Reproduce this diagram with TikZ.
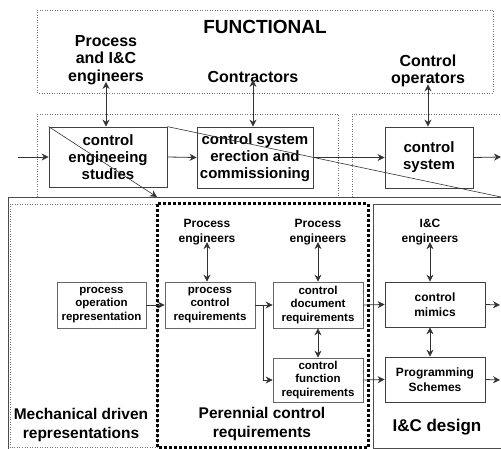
\documentclass[tikz,border=0pt]{standalone}
\usepackage{fontspec}
\setmainfont{Liberation Sans}
\usetikzlibrary{arrows.meta}
\begin{document}
\begin{tikzpicture}[x=1pt,y=-1pt,
  every node/.style={font=\bfseries, inner sep=0pt, align=center},
  big/.style={font=\fontsize{16}{17.5}\selectfont\bfseries},
  huge/.style={font=\fontsize{19}{20}\selectfont\bfseries},
  mid/.style={font=\fontsize{15}{17}\selectfont\bfseries},
  small/.style={font=\fontsize{12}{15}\selectfont\bfseries},
  tiny/.style={font=\fontsize{11.5}{13.5}\selectfont\bfseries},
  label/.style={font=\fontsize{15.5}{19.5}\selectfont\bfseries},
  stage/.style={draw=black!75, line width=0.8pt, mid},
  task/.style={draw=black!60, line width=0.7pt, tiny},
  frame/.style={draw=black!55, line width=0.5pt, dotted},
  link/.style={draw=black!80, line width=0.8pt, -{Stealth[length=7pt,width=7pt]}},
  both/.style={draw=black!80, line width=0.8pt, {Stealth[length=7pt,width=7pt]}-{Stealth[length=7pt,width=7pt]}},
  plain/.style={draw=black!80, line width=0.7pt}
]
\useasboundingbox (0,0) rectangle (501,449);
\begin{scope}
\clip (0,0) rectangle (501,449);

% frames
\draw[frame] (37,10) rectangle (493,93);
\draw[frame] (37,114) rectangle (338,197);
\draw[frame] (352,114) rectangle (510,197);
\draw[draw=black!70, line width=0.6pt] (8,197) rectangle (512,456);
\draw[frame] (10,204) rectangle (157,447);
\draw[draw=black, line width=3pt, dash pattern=on 3pt off 2pt] (157,204) rectangle (368,447.5);
\draw[draw=black!70, line width=0.6pt] (373,204) rectangle (512,448);

% functional level
\node[huge] (func) at (265,27) {FUNCTIONAL};
\node[big] (pie) at (106,60) {Process\\and I\&C\\engineers};
\node[big] (contr) at (253,77) {Contractors};
\node[big] (cop) at (428,71) {Control\\operators};

% stage boxes
\node[stage, minimum width=118pt, minimum height=60pt] (ces) at (108,157) {control\\engineeing\\studies};
\node[stage, minimum width=116pt, minimum height=61pt] (cse) at (255,157.5) {control system\\erection and\\commissioning};
\node[stage, minimum width=88pt, minimum height=61pt] (cs) at (429,157.5) {control\\system};

\coordinate (in) at (18,157);
\coordinate (out) at (501,157);
\coordinate (zoomL) at (157,197);
\coordinate (zoomR) at (501,197);

\draw[both] ([yshift=3pt]pie.south) -- (pie.south |- ces.north);
\draw[both] ([yshift=3pt]contr.south) -- (contr.south |- cse.north);
\draw[both] ([yshift=3pt]cop.south) -- (cop.south |- cs.north);

\draw[link] (in) -- (ces.west);
\draw[link] (ces.east) -- (cse.west);
\draw[link] (cse.east) -- (cs.west);
\draw[link] (cs.east) -- (out);

\draw[link, line width=0.6pt] (ces.north west) -- (zoomL);
\draw[plain, line width=0.6pt] (ces.north east) -- (zoomR);

% detailed level
\node[small] (pe1) at (207,232) {Process\\engineers};
\node[small] (pe2) at (318,232) {Process\\engineers};
\node[small] (ice) at (430,232) {I\&C\\engineers};

\node[task, minimum width=89pt, minimum height=46pt] (por) at (101.5,305) {process\\operation\\representation};
\node[task, minimum width=90pt, minimum height=46pt] (pcr) at (210,305) {process\\control\\requirements};
\node[task, minimum width=90pt, minimum height=46pt] (cdr) at (318,305) {control\\document\\requirements};
\node[task, minimum width=90pt, minimum height=44pt] (cfr) at (318,380) {control\\function\\requirements};
\node[task, draw=black!75, font=\fontsize{12}{15}\selectfont\bfseries, minimum width=100pt, minimum height=45pt] (cm) at (435,304.5) {control\\mimics};
\node[task, draw=black!75, font=\fontsize{12}{15}\selectfont\bfseries, minimum width=100pt, minimum height=45pt] (ps) at (435,379.5) {Programming\\Schemes};

\coordinate (fork) at (263,305);
\coordinate (outA) at (500,305);
\coordinate (outB) at (500,380);

\draw[both] ([yshift=3pt]pe1.south) -- (pe1.south |- pcr.north);
\draw[both] ([yshift=3pt]pe2.south) -- (pe2.south |- cdr.north);
\draw[both] ([yshift=3pt]ice.south) -- (ice.south |- cm.north);
\draw[both] (cdr.south) -- (cfr.north);
\draw[both] (ice.south |- cm.south) -- (ice.south |- ps.north);

\draw[link] (por.east) -- (pcr.west);
\draw[link] (pcr.east) -- (cdr.west);
\draw[link] (fork) |- (cfr.west);
\draw[link] (cdr.east) -- (cm.west);
\draw[link] (cfr.east) -- (ps.west);
\draw[link] (cm.east) -- (outA);
\draw[link] (ps.east) -- (outB);

\node[label] (mdr) at (81,425) {Mechanical driven\\representations};
\node[label] (pcrl) at (262,424) {Perennial control\\requirements};
\node[font=\fontsize{17}{20}\selectfont\bfseries] (icd) at (437,427) {I\&C design};
\end{scope}
\end{tikzpicture}
\end{document}
